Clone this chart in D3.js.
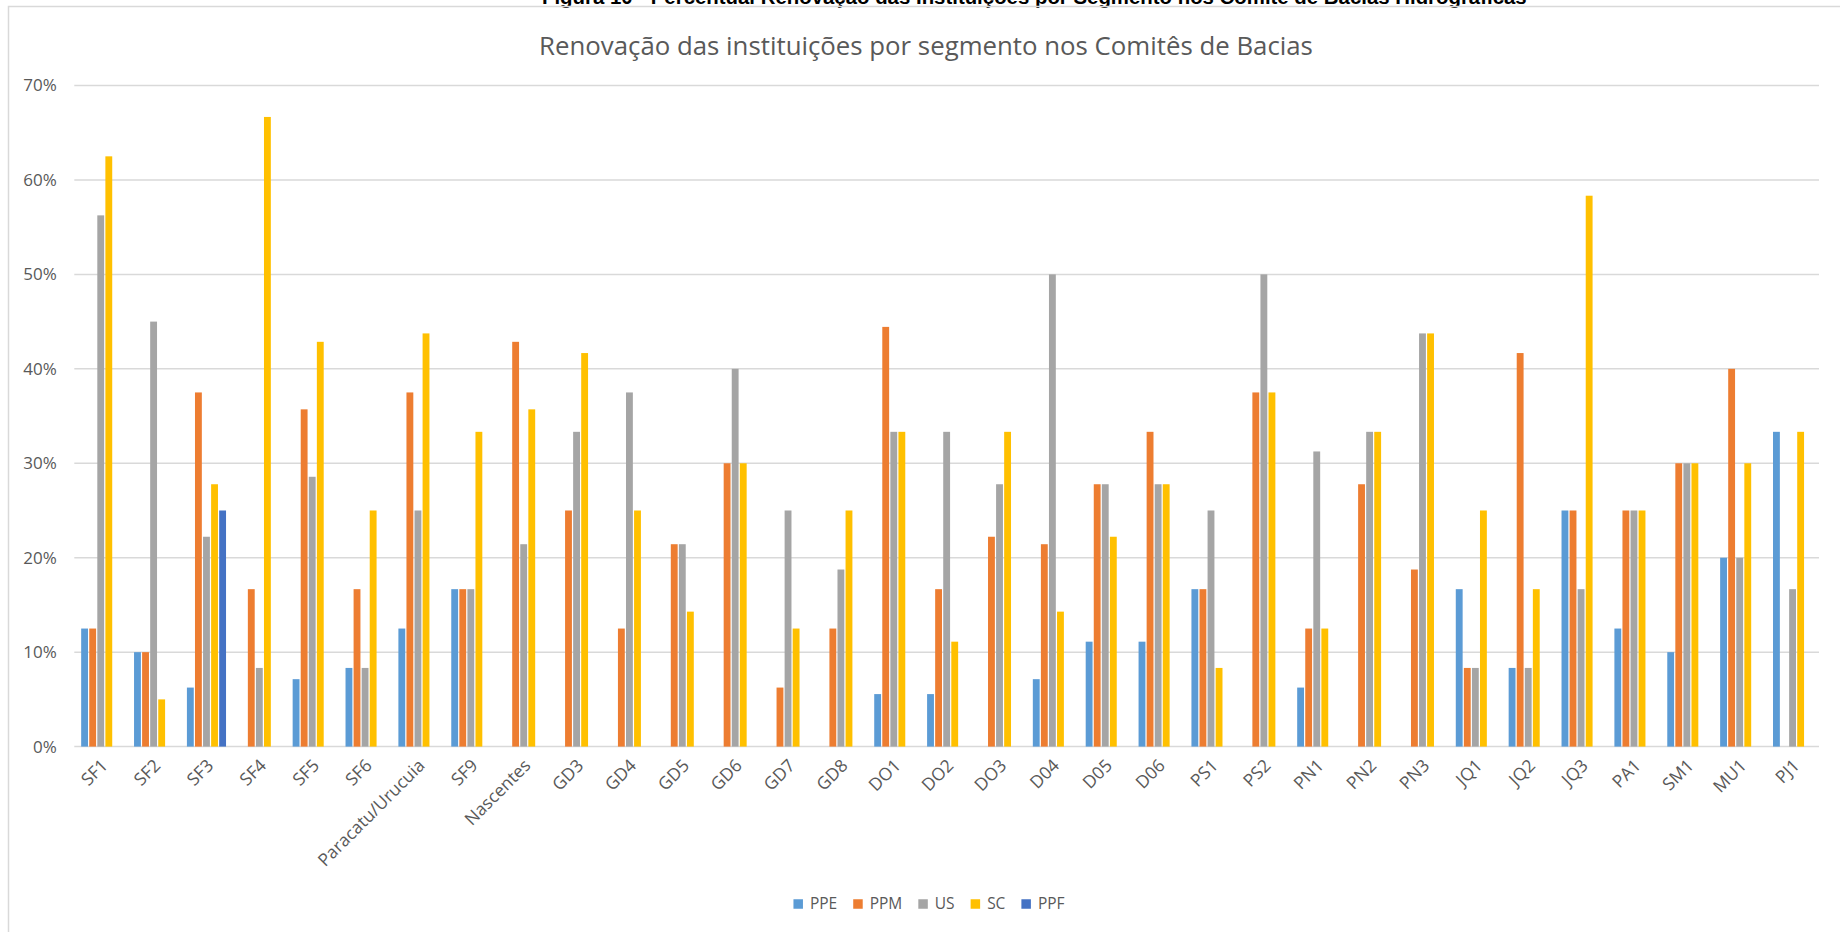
<!DOCTYPE html>
<html>
<head>
<meta charset="utf-8">
<script src="https://cdn.jsdelivr.net/npm/d3@7"></script>
<style>
  html, body { margin: 0; padding: 0; background: #fff; }
  svg { display: block; }
</style>
</head>
<body>
<svg id="chart" width="1840" height="932"></svg>
<script>
// ---------- data ----------
const categories = ["SF1","SF2","SF3","SF4","SF5","SF6","Paracatu/Urucuia","SF9","Nascentes","GD3","GD4","GD5","GD6","GD7","GD8","DO1","DO2","DO3","D04","D05","D06","PS1","PS2","PN1","PN2","PN3","JQ1","JQ2","JQ3","PA1","SM1","MU1","PJ1"];
const seriesNames = ["PPE","PPM","US","SC","PPF"];
const seriesColors = ["#5B9BD5","#ED7D31","#A5A5A5","#FFC000","#4472C4"];
const PPE = [12.5,10,6.25,null,7.14,8.33,12.5,16.67,null,null,null,null,null,null,null,5.56,5.56,null,7.14,11.11,11.11,16.67,null,6.25,null,null,16.67,8.33,25,12.5,10,20,33.33];
const PPM = [12.5,10,37.5,16.67,35.71,16.67,37.5,16.67,42.86,25,12.5,21.43,30,6.25,12.5,44.44,16.67,22.22,21.43,27.78,33.33,16.67,37.5,12.5,27.78,18.75,8.33,41.67,25,25,30,40,null];
const US  = [56.25,45,22.22,8.33,28.57,8.33,25,16.67,21.43,33.33,37.5,21.43,40,25,18.75,33.33,33.33,27.78,50,27.78,27.78,25,50,31.25,33.33,43.75,8.33,8.33,16.67,25,30,20,16.67];
const SC  = [62.5,5,27.78,66.67,42.86,25,43.75,33.33,35.71,41.67,25,14.29,30,12.5,25,33.33,11.11,33.33,14.29,22.22,27.78,8.33,37.5,12.5,33.33,43.75,25,16.67,58.33,25,30,30,33.33];
const PPF = [null,null,25,null,null,null,null,null,null,null,null,null,null,null,null,null,null,null,null,null,null,null,null,null,null,null,null,null,null,null,null,null,null];
const yTicks = [0,10,20,30,40,50,60,70];
const chartTitle = "Renovação das instituições por segmento nos Comitês de Bacias";
const captionText = "Figura 10 - Percentual Renovação das Instituições por Segmento nos Comitê de Bacias Hidrográficas";

const seriesValues = [PPE, PPM, US, SC, PPF];

// ---------- layout ----------
const svg = d3.select("#chart");
const W = 1840, H = 932;
const plot = { left: 74.3, right: 1819, top: 85.5, bottom: 746.6 };
const font = "'Open Sans', 'Segoe UI', sans-serif";

svg.append("rect").attr("width", W).attr("height", H).attr("fill", "#fff");

// caption (cut off at top, as in the source document)
svg.append("text")
  .attr("x", 542).attr("y", 4)
  .attr("font-family", "'Liberation Sans', Arial, sans-serif")
  .attr("font-weight", "bold")
  .attr("font-size", 20.4)
  .attr("fill", "#000")
  .text(captionText);

// chart border
svg.append("rect")
  .attr("x", 8.5).attr("y", 6.5)
  .attr("width", W + 10).attr("height", H + 10)
  .attr("fill", "none")
  .attr("stroke", "#D9D9D9")
  .attr("stroke-width", 1.5);

// title
svg.append("text")
  .attr("x", 926).attr("y", 55)
  .attr("text-anchor", "middle")
  .attr("font-family", font)
  .attr("font-size", 25.8)
  .attr("fill", "#595959")
  .text(chartTitle);

// scales
const x0 = d3.scaleBand().domain(categories).range([plot.left, plot.right])
  .paddingInner(0.26).paddingOuter(0.13);
const x1 = d3.scaleBand().domain(seriesNames).range([0, x0.bandwidth()])
  .paddingInner(0.15).paddingOuter(0);
const y = d3.scaleLinear().domain([0, 70]).range([plot.bottom, plot.top]);

// gridlines
svg.append("g").selectAll("line").data(yTicks).join("line")
  .attr("x1", plot.left).attr("x2", plot.right)
  .attr("y1", d => y(d)).attr("y2", d => y(d))
  .attr("stroke", "#D9D9D9").attr("stroke-width", 1.5);

// y axis labels
const yAxis = d3.axisLeft(y).tickValues(yTicks).tickFormat(d => d + "%").tickSize(0).tickPadding(17.5);
const yg = svg.append("g").attr("transform", `translate(${plot.left},0)`).call(yAxis);
yg.select(".domain").remove();
yg.selectAll("text").attr("font-family", font).attr("font-size", 17).attr("fill", "#595959");

// bars
const groups = svg.append("g").selectAll("g").data(categories).join("g")
  .attr("transform", d => `translate(${x0(d)},0)`);
groups.selectAll("rect")
  .data((c, i) => seriesNames.map((s, k) => ({ s, k, v: seriesValues[k][i] })).filter(d => d.v != null))
  .join("rect")
  .attr("x", d => x1(d.s))
  .attr("width", x1.bandwidth())
  .attr("y", d => y(d.v))
  .attr("height", d => y(0) - y(d.v))
  .attr("fill", d => seriesColors[d.k]);

// x axis
const xAxis = d3.axisBottom(x0).tickSize(0).tickPadding(0);
const xg = svg.append("g").attr("transform", `translate(0,${plot.bottom})`).call(xAxis);
xg.select(".domain").remove();
xg.selectAll("text")
  .attr("font-family", font).attr("font-size", 17.5).attr("fill", "#595959")
  .attr("text-anchor", "end")
  .attr("dy", "0")
  .attr("transform", "translate(8,20) rotate(-45)");

// legend
const legend = svg.append("g");
let lx = 0;
seriesNames.forEach((s, k) => {
  const g = legend.append("g");
  g.append("rect").attr("x", 0).attr("y", -4.75).attr("width", 9.5).attr("height", 9.5).attr("fill", seriesColors[k]);
  const t = g.append("text").attr("x", 16.5).attr("y", 0).attr("dy", "0.35em")
    .attr("font-family", font).attr("font-size", 15.5).attr("fill", "#595959").text(s);
  const w = 16.5 + t.node().getComputedTextLength();
  g.attr("transform", `translate(${lx},0)`);
  lx += w + 16;
});
const legW = lx - 16;
legend.attr("transform", `translate(${929 - legW / 2},904)`);
</script>
</body>
</html>
